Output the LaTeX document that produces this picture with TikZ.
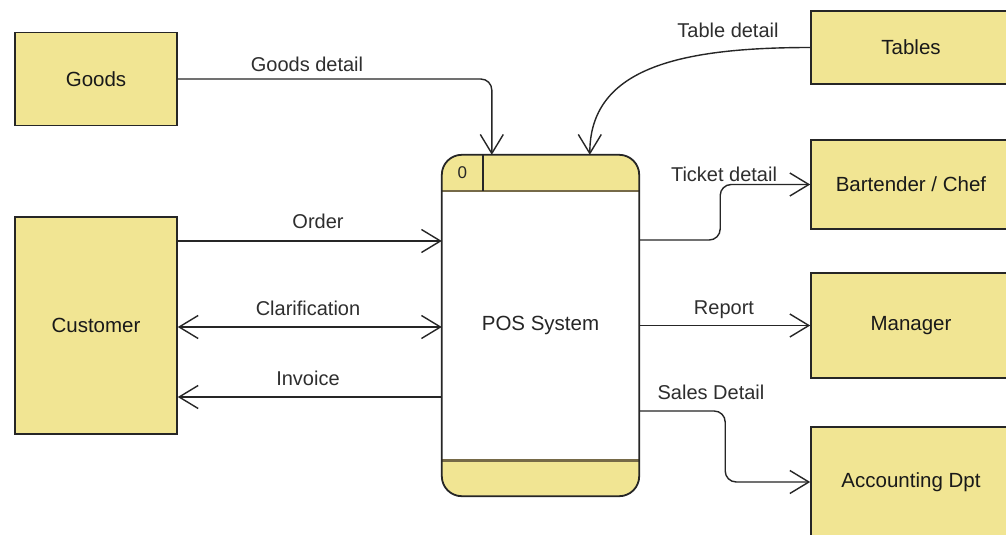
\documentclass[tikz,border=0pt]{standalone}
\usepackage{fontspec}
\setmainfont{Liberation Sans}
\usetikzlibrary{arrows.meta,calc}
\definecolor{entfill}{RGB}{241,229,147}
\definecolor{edgecol}{RGB}{38,38,38}
\definecolor{bandline}{RGB}{118,106,72}
\begin{document}
\begin{tikzpicture}[x=1pt,y=-1pt,
  entity/.style={draw=edgecol, line width=1.6pt, fill=entfill, text=black!90,
    font=\fontsize{20.5}{24}\selectfont, inner sep=0pt},
  procbox/.style={fill=white, rounded corners=20pt,
    minimum width=197pt, minimum height=341pt, inner sep=0pt, text=black!85,
    font=\fontsize{20.5}{24}\selectfont,
    path picture={
      \fill[entfill, sharp corners] (path picture bounding box.north west) rectangle
        ([yshift=-36pt]path picture bounding box.north east);
      \fill[entfill, sharp corners] (path picture bounding box.south west) rectangle
        ([yshift=36pt]path picture bounding box.south east);
    }},
  procedge/.style={draw=edgecol, line width=1.8pt, rounded corners=20pt},
  bandsep/.style={draw=bandline, line width=2.6pt},
  flow/.style={draw=edgecol, line width=1.4pt, rounded corners=11pt,
    -{Straight Barb[length=19pt,width=23pt]}},
  flowboth/.style={draw=edgecol, line width=1.4pt,
    {Straight Barb[length=19pt,width=23pt]}-{Straight Barb[length=19pt,width=23pt]}},
  lbl/.style={font=\fontsize{20}{24}\selectfont, text=black!82, inner sep=0pt}]

\clip (0,0) rectangle (1006,535);
\fill[white] (0,0) rectangle (1006,535);

% external entities
\node[entity, minimum width=162pt, minimum height=93pt]  (goods)  at (96,79)      {Goods};
\node[entity, minimum width=162pt, minimum height=217pt] (cust)   at (96,325.5)   {Customer};
\node[entity, minimum width=200pt, minimum height=73pt]  (tables) at (911,47.5)   {Tables};
\node[entity, minimum width=200pt, minimum height=89pt]  (bart)   at (911,184.5)  {Bartender / Chef};
\node[entity, minimum width=200pt, minimum height=105pt] (mgr)    at (911,325.5)  {Manager};
\node[entity, minimum width=200pt, minimum height=110pt] (acc)    at (911,482)    {Accounting Dpt};

% the process: banded body, band separators, outline and id cell on top
\node[procbox] (pos) at (540.5,325.5) {POS System};
\draw[bandsep] ([yshift=-36pt]pos.north west) -- ([yshift=-36pt]pos.north east);
\draw[bandsep] ([yshift=36pt]pos.south west) -- ([yshift=36pt]pos.south east);
\draw[procedge] (pos.north west) rectangle (pos.south east);
\draw[edgecol, line width=1.6pt] ([xshift=41pt]pos.north west) -- ([xshift=41pt,yshift=-36pt]pos.north west);
\node[font=\fontsize{17}{20}\selectfont, text=black!85] (pid) at ($(pos.north west)+(20.5,17.5)$) {0};

% data flows
\draw[flow] (goods.east) -| ([xshift=50pt]pos.north west);
\draw[flow] (tables.west) .. controls +(-135,0) and +(0,-85) .. ([xshift=148pt]pos.north west);
\draw[flow] ([yshift=85.5pt]pos.east) -- ++(81,0) |- (bart.west);
\draw[flow] (pos.east) -- (mgr.west);
\draw[flow] ([yshift=-85.5pt]pos.east) -- ++(86,0) |- (acc.west);

\path ([yshift=84.5pt]cust.east) coordinate (ordS);
\path ([yshift=-1.5pt]cust.east) coordinate (clS);
\path ([yshift=-71.5pt]cust.east) coordinate (invS);
\draw[flow] (ordS) -- (ordS -| pos.west);
\draw[flowboth] (clS) -- (clS -| pos.west);
\draw[flow] (invS -| pos.west) -- (invS);

% flow labels
\node[lbl] (lgoods)  at (307,64)  {Goods detail};
\node[lbl] (ltable)  at (728,30)  {Table detail};
\node[lbl] (lorder)  at (318,221) {Order};
\node[lbl] (lclar)   at (308,308) {Clarification};
\node[lbl] (linv)    at (308,378) {Invoice};
\node[lbl] (lticket) at (724,174) {Ticket detail};
\node[lbl] (lreport) at (724,310) {Report};
\node[lbl] (lsales)  at (711,392) {Sales Detail};
\end{tikzpicture}
\end{document}
